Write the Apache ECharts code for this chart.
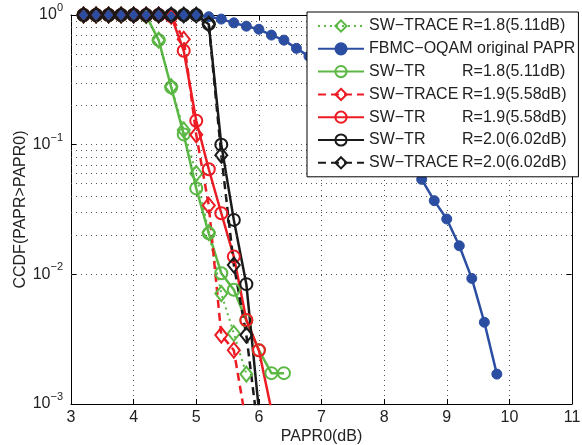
<!DOCTYPE html>
<html>
<head>
<meta charset="utf-8">
<script src="https://cdn.jsdelivr.net/npm/echarts@6/dist/echarts.min.js"></script>
<style>
html,body{margin:0;padding:0;background:#fff;}
#chart{width:582px;height:445px;}
</style>
</head>
<body>
<div id="chart"></div>
<script>
// PAPR0 grid (dB)
const papr0 = [3.2, 3.4, 3.6, 3.8, 4.0, 4.2, 4.4, 4.6, 4.8, 5.0, 5.2, 5.4, 5.6, 5.8, 6.0, 6.2, 6.4,
  6.6, 6.8, 7.0, 7.2, 7.4, 7.6, 7.8, 8.0, 8.2, 8.4, 8.6, 8.8, 9.0, 9.2, 9.4, 9.6, 9.8];

// CCDF values (start at papr0[0])
const swTraceR18 = [1, 1, 1, 1, 1, 0.99, 0.64, 0.28, 0.13, 0.060, 0.021, 0.0071, 0.0035, 0.0017];
const fbmcOriginal = [1, 1, 1, 1, 1, 1, 1, 1, 1, 1, 0.97, 0.93, 0.87, 0.82, 0.776, 0.70, 0.64,
  0.553, 0.48, 0.41, 0.34, 0.275, 0.22, 0.174, 0.132, 0.10, 0.074, 0.054, 0.037, 0.0267, 0.0166,
  0.0093, 0.00427, 0.0017];
const swTrR18 = [1, 1, 1, 1, 1, 0.99, 0.64, 0.277, 0.12, 0.046, 0.0207, 0.0102, 0.0076, 0.0044,
  0.0026, 0.00173, 0.00173];
const swTraceR19 = [1, 1, 1, 1, 1, 1, 1, 0.98, 0.65, 0.119, 0.034, 0.0034, 0.0026, 0.0007];
const swTrR19 = [1, 1, 1, 1, 1, 1, 1, 0.98, 0.53, 0.153, 0.0646, 0.0296, 0.0137, 0.00445, 0.0026, 0.0009];
const swTrR20 = [1, 1, 1, 1, 1, 1, 1, 1, 1, 1, 0.85, 0.10, 0.0263, 0.0084, 0.0009];
const swTraceR20 = [1, 1, 1, 1, 1, 1, 1, 1, 1, 1, 0.85, 0.083, 0.0118, 0.0034, 0.00056];

const xTicks = [3, 4, 5, 6, 7, 8, 9, 10, 11];
const yMinorMultipliers = [2, 3, 4, 5, 6, 7, 8, 9];
const yDecades = [0.001, 0.01, 0.1];

const names = [
  'SW−TRACE R=1.8(5.11dB)',
  'FBMC−OQAM original PAPR',
  'SW−TR R=1.8(5.11dB)',
  'SW−TRACE R=1.9(5.58dB)',
  'SW−TR R=1.9(5.58dB)',
  'SW−TR R=2.0(6.02dB)',
  'SW−TRACE R=2.0(6.02dB)'
];

const GREEN = '#5cb845', RED = '#ed1c24', BLUE = '#2b4ea2', BLACK = '#1a1a1a';
const FONT = 'Liberation Sans, Arial, sans-serif';

function pairs(vals) { return vals.map((v, i) => [papr0[i], v]); }

const minorLines = [];
yDecades.forEach(d => yMinorMultipliers.forEach(m => minorLines.push({ yAxis: d * m })));

function mkSeries(name, vals, color, lineType, symbol, filled, width, symSize) {
  return {
    name: name,
    type: 'line',
    data: pairs(vals),
    symbol: symbol,
    symbolSize: symSize,
    showAllSymbol: true,
    clip: true,
    lineStyle: { color: color, width: width, type: lineType },
    itemStyle: filled ? { color: color, borderColor: color, borderWidth: 1 }
                      : { color: 'rgba(255,255,255,0)', borderColor: color, borderWidth: 2 },
    emphasis: { disabled: true },
    animation: false
  };
}

const series = [
  mkSeries(names[0], swTraceR18, GREEN, [2, 4], 'diamond', false, 2, [12, 15]),
  mkSeries(names[1], fbmcOriginal, BLUE, 'solid', 'circle', true, 2.5, 10),
  mkSeries(names[2], swTrR18, GREEN, 'solid', 'circle', false, 2.5, 12),
  mkSeries(names[3], swTraceR19, RED, [8, 5], 'diamond', false, 2.5, [12, 15]),
  mkSeries(names[4], swTrR19, RED, 'solid', 'circle', false, 2.5, 12),
  mkSeries(names[5], swTrR20, BLACK, 'solid', 'circle', false, 2.5, 12),
  mkSeries(names[6], swTraceR20, BLACK, [8, 5], 'diamond', false, 2.5, [12, 15])
];
series[1].markLine = {
  silent: true,
  symbol: 'none',
  label: { show: false },
  lineStyle: { color: '#555', width: 1, type: [1, 4] },
  data: minorLines,
  animation: false
};

function supLabel(v) {
  const e = Math.round(Math.log10(v));
  return '{b|10}{s|' + (e < 0 ? '−' + (-e) : e) + '}';
}

const chart = echarts.init(document.getElementById('chart'), null, { renderer: 'canvas' });
chart.setOption({
  backgroundColor: '#fff',
  animation: false,
  grid: { left: 71, right: 10, top: 15, bottom: 41, containLabel: false, outerBoundsMode: 'none' },
  legend: {
    left: 307,
    top: 12,
    orient: 'vertical',
    data: names,
    backgroundColor: '#fff',
    borderColor: '#000',
    borderWidth: 1,
    borderRadius: 0,
    padding: [6, 3, 6, 10],
    itemWidth: 46,
    itemHeight: 14,
    itemGap: 6.8,
    selectedMode: false,
    textStyle: {
      fontFamily: FONT, fontSize: 16, color: '#222',
      rich: {
        a: { width: 93, fontFamily: FONT, fontSize: 16, color: '#222' },
        b: { fontFamily: FONT, fontSize: 16, color: '#222' }
      }
    },
    formatter: function (name) {
      const i = name.indexOf(' R=');
      if (i < 0) return name;
      return '{a|' + name.slice(0, i) + '}{b|' + name.slice(i + 1) + '}';
    },
    z: 10
  },
  xAxis: [{
    type: 'value', min: 3, max: 11, interval: 1,
    name: 'PAPR0(dB)', nameLocation: 'middle', nameGap: 25,
    nameMoveOverlap: false,
    nameTextStyle: { fontFamily: FONT, fontSize: 16, color: '#222' },
    axisLine: { show: true, onZero: false, lineStyle: { color: '#000', width: 1 } },
    axisTick: { show: true, inside: true, length: 5, lineStyle: { color: '#000' } },
    axisLabel: { fontFamily: FONT, fontSize: 16, color: '#222', margin: 6 },
    splitLine: { show: true, lineStyle: { color: '#555', width: 1, type: [1, 4] } }
  }, {
    type: 'value', min: 3, max: 11, interval: 1, position: 'top',
    axisLine: { show: true, onZero: false, lineStyle: { color: '#000', width: 1 } },
    axisTick: { show: true, inside: true, length: 5, lineStyle: { color: '#000' } },
    axisLabel: { show: false },
    splitLine: { show: false }
  }],
  yAxis: [{
    type: 'log', logBase: 10, min: 0.001, max: 1, interval: 1,
    name: 'CCDF(PAPR>PAPR0)', nameLocation: 'middle', nameGap: 42, nameRotate: 90,
    nameMoveOverlap: false,
    nameTextStyle: { fontFamily: FONT, fontSize: 16, color: '#222' },
    axisLine: { show: true, onZero: false, lineStyle: { color: '#000', width: 1 } },
    axisTick: { show: true, inside: true, length: 5, lineStyle: { color: '#000' } },
    axisLabel: {
      margin: 8, formatter: supLabel,
      rich: {
        b: { fontFamily: FONT, fontSize: 16, color: '#222' },
        s: { fontFamily: FONT, fontSize: 11, color: '#222', padding: [0, 0, 14, 0] }
      }
    },
    splitLine: { show: true, lineStyle: { color: '#555', width: 1, type: [1, 4] } },
    minorTick: { show: false },
    minorSplitLine: { show: false }
  }, {
    type: 'log', logBase: 10, min: 0.001, max: 1, interval: 1, position: 'right',
    axisLine: { show: true, onZero: false, lineStyle: { color: '#000', width: 1 } },
    axisTick: { show: true, inside: true, length: 5, lineStyle: { color: '#000' } },
    axisLabel: { show: false },
    splitLine: { show: false }
  }],
  series: series
});
</script>
</body>
</html>
